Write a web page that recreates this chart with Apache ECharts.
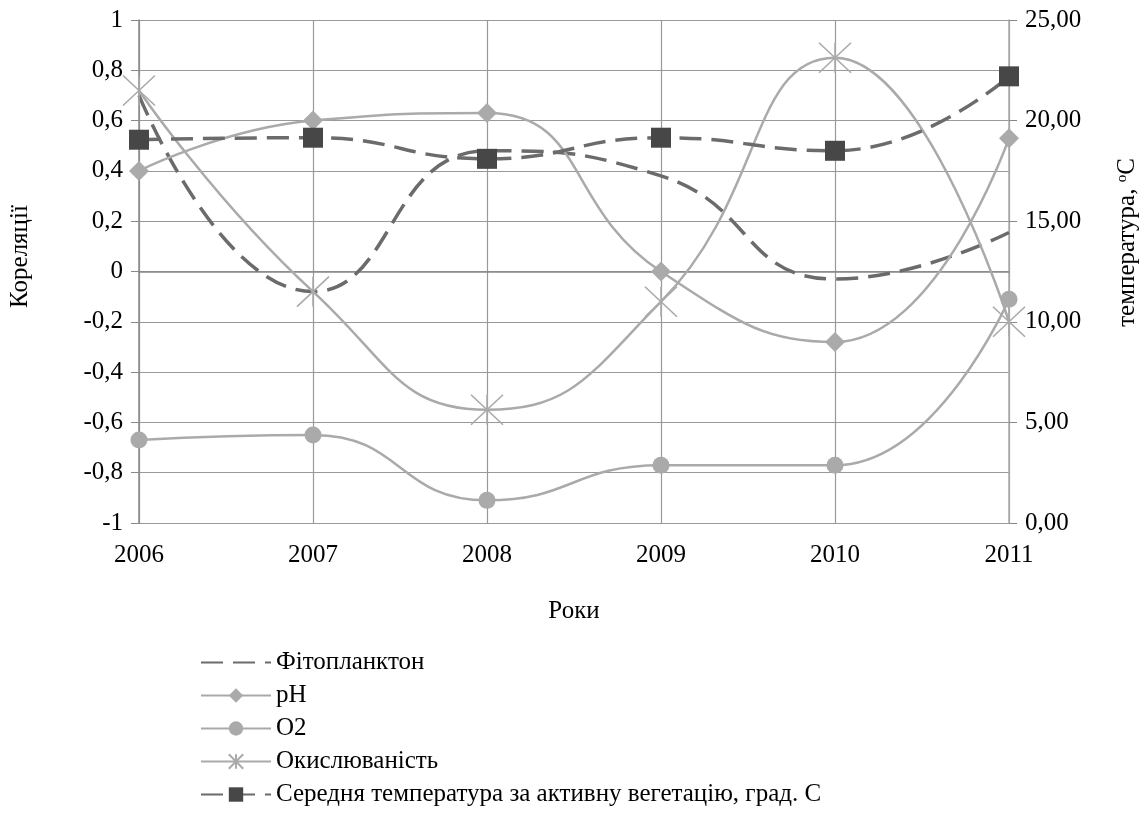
<!DOCTYPE html>
<html><head><meta charset="utf-8">
<script src="https://cdn.jsdelivr.net/npm/echarts@6/dist/echarts.min.js"></script>
<style>html,body{margin:0;padding:0;background:#fff}#c{width:1148px;height:814px}</style>
</head><body><div id="c"></div>
<script>
const years = ['2006','2007','2008','2009','2010','2011'];
const phyto = [0.70, -0.08, 0.48, 0.38, -0.03, 0.155];
const pH = [0.40, 0.60, 0.63, 0.00, -0.28, 0.53];
const o2 = [-0.67, -0.65, -0.91, -0.77, -0.77, -0.11];
const oxid = [0.72, -0.08, -0.55, -0.12, 0.85, -0.20];
const temp = [19.05, 19.15, 18.1, 19.15, 18.5, 22.2];
const names = ['Фітопланктон','pH','O2','Окислюваність','Середня температура за активну вегетацію, град. С'];

const font = 'Liberation Serif';
const fs = 25;
const dark = '#6b6b6b', light = '#aaaaaa';
const star = 'path://M0,0L2,2M2,0L0,2M1,0L1,2';
const chart = echarts.init(document.getElementById('c'));
chart.setOption({
  animation: false,
  textStyle: {fontFamily: font, color: '#000'},
  grid: {left: 137, right: 134, top: 20, bottom: 291},
  legend: {
    orient: 'vertical', left: 200, top: 650, padding: 0, height: 164,
    itemWidth: 70, itemHeight: 18, itemGap: 8,
    textStyle: {fontFamily: font, fontSize: fs, color: '#000'},
    data: [
      {name: names[0], itemStyle: {color: 'rgba(0,0,0,0)', borderWidth: 0}},
      names[1], names[2], names[3], names[4]
    ]
  },
  xAxis: {
    type: 'category', data: years, boundaryGap: false,
    name: 'Роки', nameLocation: 'middle', nameGap: 76,
    nameTextStyle: {fontFamily: font, fontSize: fs, color: '#000'},
    axisLine: {lineStyle: {color: '#888', width: 1.5}},
    axisTick: {show: false},
    axisLabel: {fontFamily: font, fontSize: fs, color: '#000', margin: 20},
    splitLine: {show: true, lineStyle: {color: '#999', width: 1.2}}
  },
  yAxis: [{
    type: 'value', min: -1, max: 1, interval: 0.2,
    name: 'Кореляції', nameLocation: 'middle', nameGap: 106, nameRotate: 90,
    nameTextStyle: {fontFamily: font, fontSize: fs, color: '#000', padding: [0, 0, 0, 30]},
    axisLine: {show: true, lineStyle: {color: '#888', width: 1.5}},
    axisTick: {show: true, length: 8, lineStyle: {color: '#888'}},
    axisLabel: {fontFamily: font, fontSize: fs, color: '#000', margin: 16,
      formatter: v => { const r = Math.round(v*10)/10; return (r===0||r===1||r===-1) ? String(r) : r.toFixed(1).replace('.', ','); }},
    splitLine: {show: true, lineStyle: {color: '#999', width: 1.2}}
  }, {
    type: 'value', min: 0, max: 25, interval: 5, position: 'right',
    name: '{a|температура, }{b|o}{a|C}', nameLocation: 'middle', nameGap: 106, nameRotate: 90,
    nameTextStyle: {fontFamily: font, fontSize: fs, color: '#000', padding: [0, 0, 0, 58],
      rich: {a: {fontFamily: font, fontSize: fs, color: '#000', verticalAlign: 'bottom'},
             b: {fontFamily: font, fontSize: 15, color: '#000', verticalAlign: 'top'}}},
    axisLine: {show: true, lineStyle: {color: '#aaa', width: 1.5}},
    axisTick: {show: true, length: 8, lineStyle: {color: '#888'}},
    axisLabel: {fontFamily: font, fontSize: fs, color: '#000', margin: 16,
      formatter: v => v.toFixed(2).replace('.', ',')},
    splitLine: {show: false}
  }],
  series: [
    {name: names[0], type: 'line', data: phyto, smooth: 0.5, symbol: 'none',
     lineStyle: {color: dark, width: 3.5, type: [22, 10]}, itemStyle: {color: dark}},
    {name: names[1], type: 'line', data: pH, smooth: 0.5, symbol: 'diamond', symbolSize: 20,
     lineStyle: {color: light, width: 2.5}, itemStyle: {color: light}},
    {name: names[2], type: 'line', data: o2, smooth: 0.5, symbol: 'circle', symbolSize: 17,
     lineStyle: {color: light, width: 2.5}, itemStyle: {color: light}},
    {name: names[3], type: 'line', data: oxid, smooth: 0.5, symbol: star, symbolSize: [32, 30],
     lineStyle: {color: light, width: 2.5}, itemStyle: {color: light, borderColor: light, borderWidth: 1.5}},
    {name: names[4], type: 'line', yAxisIndex: 1, data: temp, smooth: 0.5, symbol: 'rect', symbolSize: 20,
     lineStyle: {color: dark, width: 3.5, type: [22, 10]}, itemStyle: {color: '#474747'}}
  ]
});
</script></body></html>
